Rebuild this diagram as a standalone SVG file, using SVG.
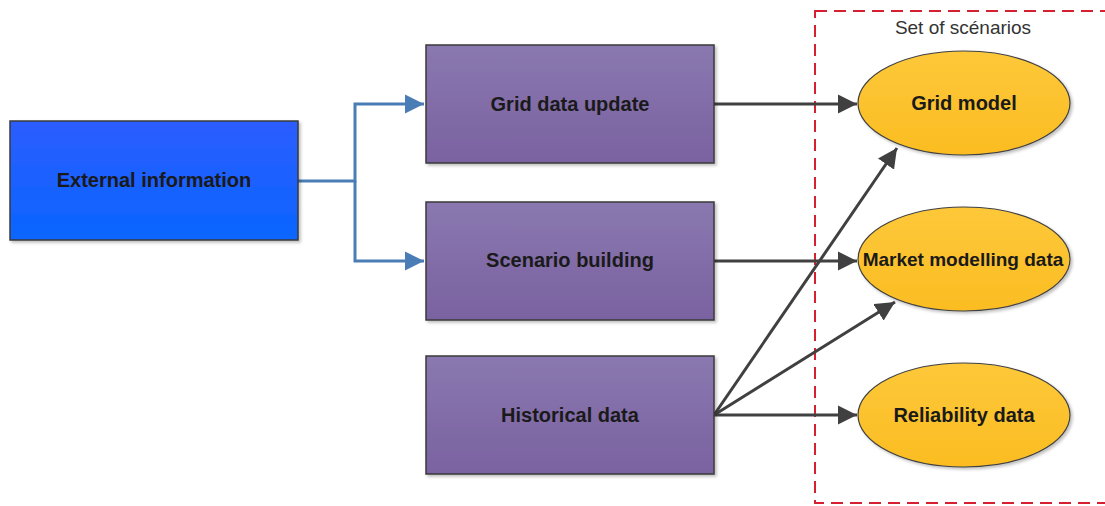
<svg xmlns="http://www.w3.org/2000/svg" width="1105" height="506" viewBox="0 0 1105 506">
<style>
.lbl{font-family:"Liberation Sans",Arial,sans-serif;font-weight:bold;font-size:20px;fill:#1a1a1a;text-anchor:middle;dominant-baseline:central}
.box{stroke:#3a3a3a;stroke-width:1.5;filter:url(#sh)}
.ell{fill:url(#gy);stroke:#404040;stroke-width:1.2;filter:url(#sh)}
.dk{stroke:#404040;stroke-width:3;fill:none;marker-end:url(#ad)}
.bl{stroke:#4a7db5;stroke-width:3;fill:none}
</style>
<defs>
<linearGradient id="gb" x1="0" y1="0" x2="0" y2="1"><stop offset="0" stop-color="#2c5cff"/><stop offset="1" stop-color="#0a66ff"/></linearGradient>
<linearGradient id="gp" x1="0" y1="0" x2="0" y2="1"><stop offset="0" stop-color="#8a78b0"/><stop offset="1" stop-color="#7a62a0"/></linearGradient>
<linearGradient id="gy" x1="0" y1="0" x2="0" y2="1"><stop offset="0" stop-color="#fdc83a"/><stop offset="1" stop-color="#fbbd22"/></linearGradient>
<filter id="sh" x="-10%" y="-10%" width="130%" height="130%"><feDropShadow dx="2" dy="2" stdDeviation="1.5" flood-color="#000" flood-opacity="0.25"/></filter>
<marker id="ad" viewBox="0 0 10 10" refX="10" refY="5" markerWidth="6.5" markerHeight="6.5" markerUnits="strokeWidth" orient="auto"><path d="M0,0 L10,5 L0,10 z" fill="#404040"/></marker>
<marker id="ab" viewBox="0 0 10 10" refX="10" refY="5" markerWidth="6.5" markerHeight="6.5" markerUnits="strokeWidth" orient="auto"><path d="M0,0 L10,5 L0,10 z" fill="#4a7db5"/></marker>
</defs>
<g id="scenario-set">
<rect x="815" y="11" width="300" height="492" fill="none" stroke="#d42030" stroke-width="2" stroke-dasharray="12,7"/>
<text x="963" y="27" class="lbl" style="font-weight:normal;font-size:19px;fill:#333">Set of scénarios</text>
</g>
<g id="connectors">
<path class="bl" d="M298,181 H355 V104 H424" marker-end="url(#ab)"/>
<path class="bl" d="M355,181 V261 H424" marker-end="url(#ab)"/>
<path class="dk" d="M714,104 H857"/>
<path class="dk" d="M714,261 H857"/>
<path class="dk" d="M714,415 H857"/>
<path class="dk" d="M714,415 L897,148"/>
<path class="dk" d="M714,415 L895,302"/>
</g>
<g id="external-information">
<rect class="box" x="10" y="121" width="288" height="119" fill="url(#gb)"/>
<text x="154" y="180" class="lbl">External information</text>
</g>
<g id="grid-data-update">
<rect class="box" x="426" y="45" width="288" height="118" fill="url(#gp)"/>
<text x="570" y="104" class="lbl">Grid data update</text>
</g>
<g id="scenario-building">
<rect class="box" x="426" y="202" width="288" height="118" fill="url(#gp)"/>
<text x="570" y="260" class="lbl">Scenario building</text>
</g>
<g id="historical-data">
<rect class="box" x="426" y="356" width="288" height="118" fill="url(#gp)"/>
<text x="570" y="415" class="lbl">Historical data</text>
</g>
<g id="grid-model">
<ellipse class="ell" cx="964" cy="103" rx="106" ry="52"/>
<text x="964" y="103" class="lbl">Grid model</text>
</g>
<g id="market-modelling-data">
<ellipse class="ell" cx="964" cy="259" rx="106" ry="52"/>
<text x="963" y="259" class="lbl" style="font-size:19px">Market modelling data</text>
</g>
<g id="reliability-data">
<ellipse class="ell" cx="964" cy="415" rx="106" ry="52"/>
<text x="964" y="415" class="lbl">Reliability data</text>
</g>
</svg>
